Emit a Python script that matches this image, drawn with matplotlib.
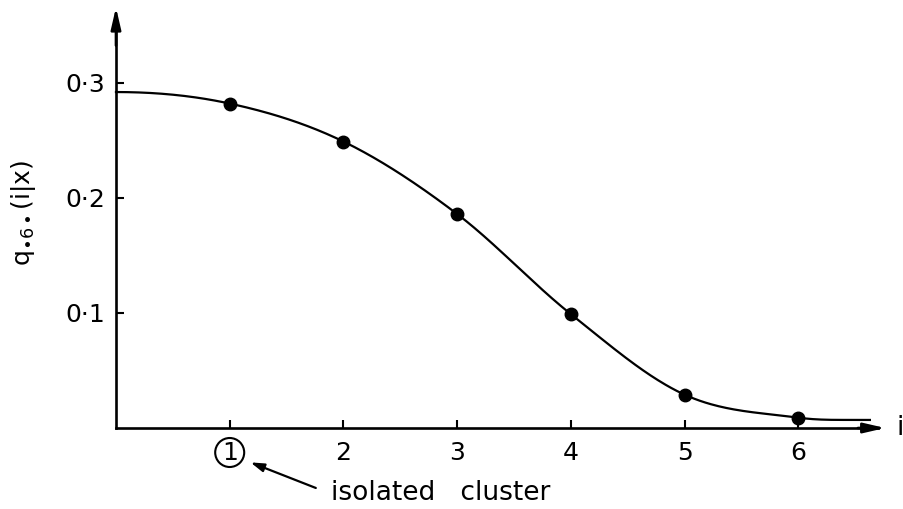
import numpy as np
import matplotlib
matplotlib.use("Agg")
import matplotlib.pyplot as plt

# data
points_i = [1, 2, 3, 4, 5, 6]
points_q = [0.282, 0.249, 0.186, 0.099, 0.029, 0.009]
curve_knots_x = [0, 1, 2, 3, 4, 5, 6, 6.63]
curve_knots_y = [0.292, 0.282, 0.249, 0.186, 0.099, 0.029, 0.009, 0.007]
xtick_vals = [1, 2, 3, 4, 5, 6]
xtick_labels = ["1", "2", "3", "4", "5", "6"]
ytick_vals = [0.1, 0.2, 0.3]
ytick_labels = ["0·1", "0·2", "0·3"]


def hermite(xk, yk):
    xk = np.asarray(xk, float)
    yk = np.asarray(yk, float)
    d = np.zeros_like(yk)
    for k in range(1, len(xk) - 1):
        d[k] = (yk[k + 1] - yk[k - 1]) / (xk[k + 1] - xk[k - 1])
    d[0] = 0.0
    d[-1] = (yk[-1] - yk[-2]) / (xk[-1] - xk[-2]) * 0.5
    xs, ys = [], []
    for k in range(len(xk) - 1):
        h = xk[k + 1] - xk[k]
        t = np.linspace(0, 1, 60, endpoint=(k == len(xk) - 2))
        h00 = 2 * t**3 - 3 * t**2 + 1
        h10 = t**3 - 2 * t**2 + t
        h01 = -2 * t**3 + 3 * t**2
        h11 = t**3 - t**2
        xs.append(xk[k] + t * h)
        ys.append(h00 * yk[k] + h10 * h * d[k] + h01 * yk[k + 1] + h11 * h * d[k + 1])
    return np.concatenate(xs), np.concatenate(ys)


plt.rcParams["font.family"] = ["DejaVu Sans"]
plt.rcParams["mathtext.fontset"] = "dejavusans"

fig = plt.figure(figsize=(9.04, 5.09), dpi=100)
ax = fig.add_axes([0, 0, 1, 1])
ax.set_xlim(-1.02, 6.93)
ax.set_ylim(-0.0704, 0.372)
for s in ["top", "right"]:
    ax.spines[s].set_visible(False)
ax.spines["left"].set_position(("data", 0))
ax.spines["bottom"].set_position(("data", 0))
ax.spines["left"].set_bounds(0, 0.35)
ax.spines["bottom"].set_bounds(0, 6.7)
ax.spines["left"].set_linewidth(1.9)
ax.spines["bottom"].set_linewidth(1.9)

# axis arrows
ax.annotate("", xy=(6.79, 0), xytext=(6.5, 0),
            arrowprops=dict(arrowstyle="-|>,head_length=1.3,head_width=0.3", lw=1.9, color="black"),
            annotation_clip=False)
ax.annotate("", xy=(0, 0.368), xytext=(0, 0.33),
            arrowprops=dict(arrowstyle="-|>,head_length=1.3,head_width=0.3", lw=1.9, color="black"),
            annotation_clip=False)

ax.set_xticks(xtick_vals)
ax.set_xticklabels(xtick_labels)
ax.set_yticks(ytick_vals)
ax.set_yticklabels(ytick_labels)
ax.tick_params(axis="both", direction="in", length=6, width=1.5, labelsize=18, colors="black")
ax.tick_params(axis="x", pad=9)
ax.tick_params(axis="y", pad=8)

# circle around tick label 1
lbl = ax.get_xticklabels()[0]
lbl.set_bbox(dict(boxstyle="circle,pad=0.1", fc="none", ec="black", lw=1.5))

cx, cy = hermite(curve_knots_x, curve_knots_y)
ax.plot(cx, cy, color="black", lw=1.6)
ax.plot(points_i, points_q, "o", color="black", markersize=9)

ax.text(-0.81, 0.187, r"q$_{\bullet 6 \bullet}$(i|x)", rotation=90, fontsize=18,
        ha="center", va="center")
ax.text(6.93, 0.0, "i", fontsize=19, ha="right", va="center")

ax.text(1.89, -0.0565, "isolated   cluster", fontsize=19, ha="left", va="center")
ax.annotate("", xy=(1.16, -0.029), xytext=(1.78, -0.053),
            arrowprops=dict(arrowstyle="-|>,head_length=0.8,head_width=0.25", lw=1.6, color="black"))

fig.savefig("out.png", dpi=100)
